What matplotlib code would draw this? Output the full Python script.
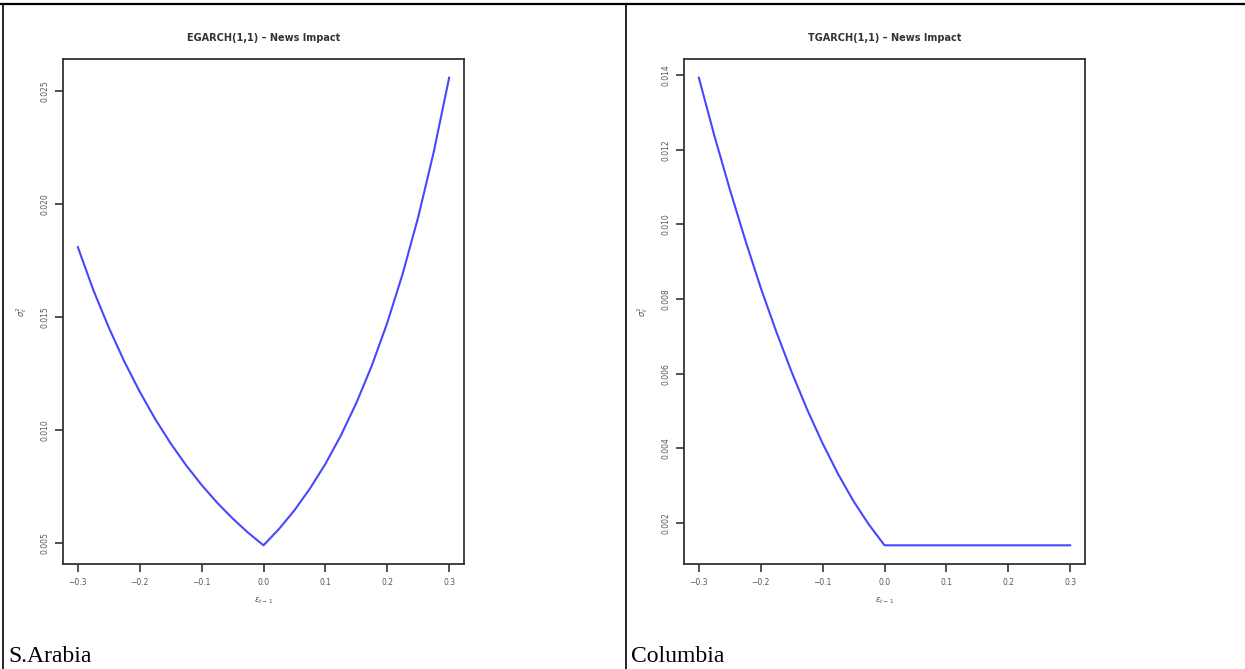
import matplotlib
matplotlib.use("Agg")
import matplotlib.pyplot as plt
from matplotlib.lines import Line2D

# news impact curves
eps_egarch = [-0.3, -0.275, -0.25, -0.225, -0.2, -0.175, -0.15, -0.125, -0.1, -0.075, -0.05, -0.025, 0.0,
              0.025, 0.05, 0.075, 0.1, 0.125, 0.15, 0.175, 0.2, 0.225, 0.25, 0.275, 0.3]
sig_egarch = [0.0181, 0.0162, 0.01454, 0.01304, 0.0117, 0.01049, 0.00941, 0.00844, 0.00757, 0.00679, 0.00609, 0.00546, 0.0049,
              0.00562, 0.00645, 0.00741, 0.0085, 0.00976, 0.0112, 0.01285, 0.01475, 0.01693, 0.01943, 0.0223, 0.0256]

eps_tgarch = [-0.3, -0.275, -0.25, -0.225, -0.2, -0.175, -0.15, -0.125, -0.1, -0.075, -0.05, -0.025, 0.0,
              0.1, 0.2, 0.3]
sig_tgarch = [0.01393, 0.01238, 0.01094, 0.00958, 0.0083, 0.00713, 0.00604, 0.00504, 0.00413, 0.00331, 0.00258, 0.00195, 0.0014,
              0.0014, 0.0014, 0.0014]

x_ticks = [-0.3, -0.2, -0.1, 0.0, 0.1, 0.2, 0.3]
x_labels = ["\u22120.3", "\u22120.2", "\u22120.1", "0.0", "0.1", "0.2", "0.3"]
egarch_yticks = [0.005, 0.010, 0.015, 0.020, 0.025]
tgarch_yticks = [0.002, 0.004, 0.006, 0.008, 0.010, 0.012, 0.014]

titles = ["EGARCH(1,1) \u2013 News Impact", "TGARCH(1,1) \u2013 News Impact"]
captions = ["S.Arabia", "Columbia"]

W, H = 1245, 669
fig = plt.figure(figsize=(W / 100, H / 100), dpi=100)
fig.patch.set_facecolor("white")

# table borders of the document
fig.add_artist(Line2D([0, 1], [1 - 4 / H, 1 - 4 / H], color="black", lw=1.6))
fig.add_artist(Line2D([3 / W, 3 / W], [0, 1 - 4 / H], color="black", lw=1.2))
fig.add_artist(Line2D([626 / W, 626 / W], [0, 1 - 4 / H], color="black", lw=1.2))


def panel(left_px, eps, sig, yticks, title, caption, cell_left):
    ax = fig.add_axes([left_px / W, 1 - 564 / H, 401 / W, 505 / H])
    ax.plot(eps, sig, color="#4747ff", lw=1.5)
    ax.margins(x=0.04, y=0.04)
    ax.set_xticks(x_ticks)
    ax.set_xticklabels(x_labels)
    ax.set_yticks(yticks)
    ax.set_yticklabels(["%.3f" % t for t in yticks], rotation=90, va="center")
    for s in ax.spines.values():
        s.set_color("#333333")
        s.set_linewidth(1.3)
    ax.tick_params(direction="out", length=6, width=1.2, color="#333333",
                   labelsize=5.5, labelcolor="#555566", pad=4)
    ax.set_xlabel(r"$\varepsilon_{t-1}$", fontsize=6, color="#555566", labelpad=6)
    ax.set_ylabel(r"$\sigma_t^2$", fontsize=6, color="#555566", labelpad=8)
    ax.set_title(title, fontsize=7, fontweight="bold", color="#333333", pad=13)
    fig.text((cell_left + 5) / W, 1 - 662 / H, caption, fontsize=17,
             family="Liberation Serif", ha="left", va="baseline")
    return ax


panel(63, eps_egarch, sig_egarch, egarch_yticks, titles[0], captions[0], 3)
panel(684, eps_tgarch, sig_tgarch, tgarch_yticks, titles[1], captions[1], 626)

fig.savefig("out.png", dpi=100)
